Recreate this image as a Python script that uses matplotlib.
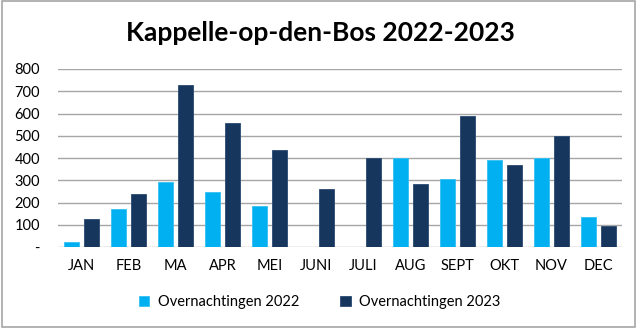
import numpy as np
import matplotlib.pyplot as plt
from matplotlib.patches import Rectangle

plt.rcParams['font.family'] = ['Lato', 'DejaVu Sans']

maanden = ['JAN', 'FEB', 'MA', 'APR', 'MEI', 'JUNI', 'JULI', 'AUG', 'SEPT', 'OKT', 'NOV', 'DEC']
nacht_2022 = [24, 170, 291, 246, 186, 0, 0, 400, 305, 393, 398, 134]
nacht_2023 = [125, 237, 729, 558, 435, 262, 399, 282, 587, 369, 500, 96]
yticks = [0, 100, 200, 300, 400, 500, 600, 700, 800]
ylabels = ['-', '100', '200', '300', '400', '500', '600', '700', '800']

licht = '#00B0F0'
donker = '#17365D'

fig = plt.figure(figsize=(6.4, 3.28), dpi=100)
ax = fig.add_axes([58 / 640, 1 - 247 / 328, 564 / 640, 178 / 328])

x = np.arange(len(maanden))
w = 0.33
ax.bar(x - 0.21, nacht_2022, w, color=licht, edgecolor='#33C0F3', linewidth=0.6,
       label='Overnachtingen 2022', zorder=3)
ax.bar(x + 0.21, nacht_2023, w, color=donker, edgecolor='#2A4A72', linewidth=0.6,
       label='Overnachtingen 2023', zorder=3)

ax.set_xlim(-0.5, len(maanden) - 0.5)
ax.set_ylim(0, 800)
ax.set_yticks(yticks)
ax.set_yticklabels(ylabels)
ax.set_xticks(x)
ax.set_xticklabels(maanden)
ax.yaxis.grid(True, color='#A6A6A6', linewidth=1, zorder=0)
ax.set_axisbelow(True)
for s in ax.spines.values():
    s.set_visible(False)
ax.tick_params(axis='both', length=0, labelsize=10.5, colors='#000000')
ax.tick_params(axis='y', pad=13)
ax.tick_params(axis='x', pad=9)
for lbl in ax.get_yticklabels():
    lbl.set_horizontalalignment('right')

fig.text(0.5, 1 - 33 / 328, 'Kappelle-op-den-Bos 2022-2023', ha='center', va='center',
         fontsize=19, fontweight='bold')

fig.legend(loc='center', bbox_to_anchor=(0.5, 1 - 302 / 328), ncol=2, frameon=False,
           fontsize=10.5, handlelength=0.7, handleheight=0.7, columnspacing=2.8,
           handletextpad=0.6)

fig.patches.append(Rectangle((2 / 640, 1 / 328), 633 / 640, 326 / 328, transform=fig.transFigure,
                             fill=False, edgecolor='#A6A6A6', linewidth=1.2))

fig.savefig('out.png', dpi=100)
